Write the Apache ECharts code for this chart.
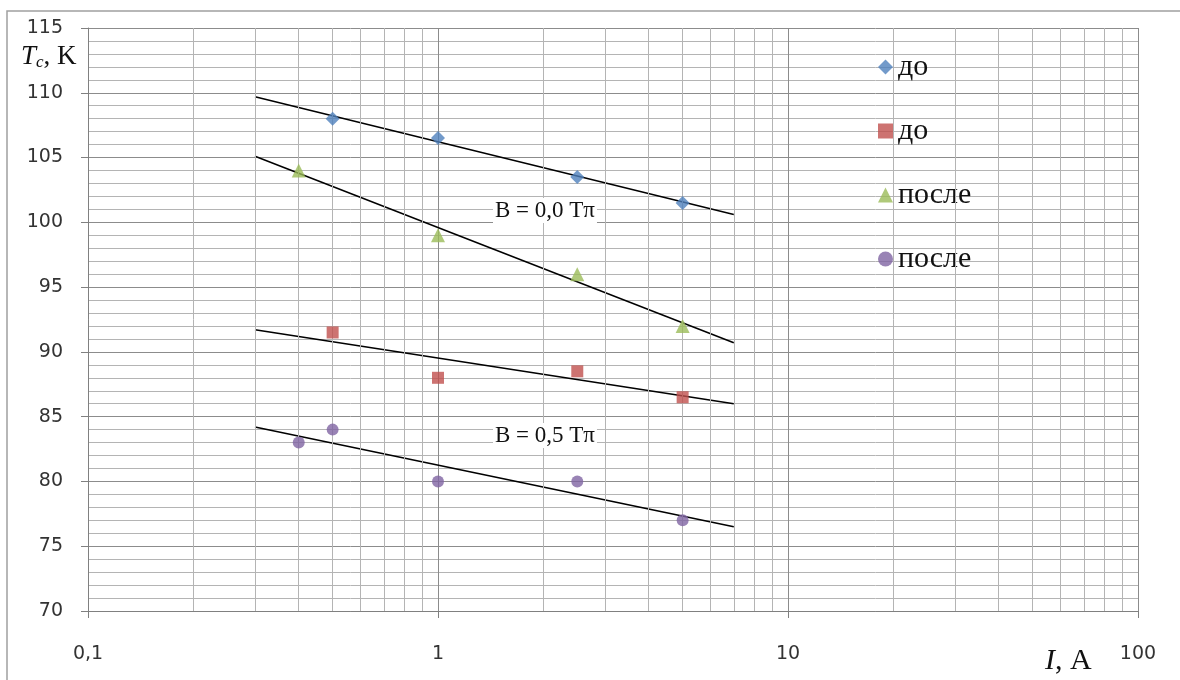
<!DOCTYPE html>
<html>
<head>
<meta charset="utf-8">
<script src="https://cdn.jsdelivr.net/npm/echarts@6/dist/echarts.min.js"></script>
<style>
  html, body { margin: 0; padding: 0; background: #fff; }
  #chart { width: 1180px; height: 680px; }
</style>
</head>
<body>
<div id="chart"></div>
<script>
// measured points, I in A, Tc in K
const doB0 = [[0.5, 108], [1, 106.5], [2.5, 103.5], [5, 101.5]];
const doB05 = [[0.5, 91.5], [1, 88], [2.5, 88.5], [5, 86.5]];
const posleB0 = [[0.4, 104], [1, 99], [2.5, 96], [5, 92]];
const posleB05 = [[0.4, 83], [0.5, 84], [1, 80], [2.5, 80], [5, 77]];

// trend lines (start / end)
const trendDoB0 = [[0.3, 109.7], [7, 100.6]];
const trendPosleB0 = [[0.3, 105.1], [7, 90.7]];
const trendDoB05 = [[0.3, 91.7], [7, 86]];
const trendPosleB05 = [[0.3, 84.2], [7, 76.5]];

// minor vertical grid lines of the log axis
const minorX = [0.2, 0.3, 0.4, 0.5, 0.6, 0.7, 0.8, 0.9,
  2, 3, 4, 5, 6, 7, 8, 9,
  20, 30, 40, 50, 60, 70, 80, 90];

const legendNames = ['до#1', 'до#2', 'после#1', 'после#2'];
const colors = ['#4F81BD', '#C0504D', '#9BBB59', '#8064A2'];

const chart = echarts.init(document.getElementById('chart'));

const serif = '"Liberation Serif", "DejaVu Serif", serif';
const sans = '"DejaVu Sans", sans-serif';

function trend(data) {
  return {
    type: 'line',
    data: data,
    symbol: 'none',
    lineStyle: { color: '#000', width: 1.5 },
    silent: true,
    z: 2
  };
}

const option = {
  animation: false,
  backgroundColor: '#fff',
  grid: { left: 88, right: 42, top: 28, bottom: 69 },
  xAxis: {
    type: 'log',
    logBase: 10,
    min: 0.1,
    max: 100,
    axisLine: { show: true, lineStyle: { color: '#808080', width: 1 } },
    axisTick: { show: true, length: 7, lineStyle: { color: '#808080' } },
    axisLabel: {
      margin: 34,
      fontFamily: sans,
      fontSize: 19,
      color: '#333',
      formatter: v => String(Number(v.toPrecision(3))).replace('.', ',')
    },
    splitLine: { show: true, lineStyle: { color: '#8c8c8c', width: 1 } },
    minorTick: { show: false },
    minorSplitLine: { show: false }
  },
  yAxis: {
    type: 'value',
    min: 70,
    max: 115,
    interval: 5,
    axisLine: { show: true, lineStyle: { color: '#808080', width: 1 } },
    axisTick: { show: true, length: 7, lineStyle: { color: '#808080' } },
    axisLabel: {
      margin: 25,
      fontFamily: sans,
      fontSize: 19,
      color: '#333'
    },
    splitLine: { show: true, lineStyle: { color: '#8c8c8c', width: 1 } },
    minorTick: { show: false, splitNumber: 5 },
    minorSplitLine: { show: true, lineStyle: { color: '#b4b4b4', width: 1 } }
  },
  legend: {
    orient: 'vertical',
    left: 873,
    top: 47,
    itemGap: 34,
    itemWidth: 15,
    itemHeight: 15,
    data: legendNames,
    formatter: name => name.split('#')[0],
    textStyle: {
      fontFamily: serif,
      fontSize: 30,
      color: '#111',
      padding: [4, 0, 0, 0]
    }
  },
  series: [
    {
      type: 'line',
      data: [],
      silent: true,
      z: 1,
      markLine: {
        silent: true,
        symbol: ['none', 'none'],
        label: { show: false },
        lineStyle: { color: '#b4b4b4', type: 'solid', width: 1 },
        data: minorX.map(v => ({ xAxis: v }))
      }
    },
    trend(trendDoB0),
    trend(trendPosleB0),
    trend(trendDoB05),
    trend(trendPosleB05),
    {
      name: legendNames[0], type: 'scatter', data: doB0,
      symbol: 'diamond', symbolSize: 14, itemStyle: { color: colors[0] }, z: 5
    },
    {
      name: legendNames[1], type: 'scatter', data: doB05,
      symbol: 'rect', symbolSize: 12, itemStyle: { color: colors[1] }, z: 5
    },
    {
      name: legendNames[2], type: 'scatter', data: posleB0,
      symbol: 'triangle', symbolSize: 14, itemStyle: { color: colors[2] }, z: 5
    },
    {
      name: legendNames[3], type: 'scatter', data: posleB05,
      symbol: 'circle', symbolSize: 12, itemStyle: { color: colors[3] }, z: 5
    }
  ],
  graphic: [
    {
      type: 'rect',
      shape: { x: 7, y: 11, width: 1200, height: 700 },
      style: { fill: 'none', stroke: '#a0a0a0', lineWidth: 1.5 },
      silent: true
    },
    {
      type: 'text',
      left: 21,
      top: 43,
      style: {
        text: '{i|T}{s|c}{n|, K}',
        rich: {
          i: { fontFamily: serif, fontStyle: 'italic', fontSize: 27, fill: '#111' },
          s: { fontFamily: serif, fontStyle: 'italic', fontSize: 17, fill: '#111', verticalAlign: 'bottom', padding: [12, 0, 0, 0] },
          n: { fontFamily: serif, fontSize: 27, fill: '#111' }
        }
      }
    },
    {
      type: 'text',
      left: 1045,
      top: 646,
      style: {
        text: '{i|I}{n|, A}',
        rich: {
          i: { fontFamily: serif, fontStyle: 'italic', fontSize: 30, fill: '#111' },
          n: { fontFamily: serif, fontSize: 30, fill: '#111' }
        }
      }
    },
    {
      type: 'text',
      left: 493,
      top: 198,
      z: 10,
      style: {
        text: 'B = 0,0 Tπ',
        fontFamily: serif,
        fontSize: 23,
        fill: '#111',
        backgroundColor: '#fff',
        padding: [1, 2, 1, 2]
      }
    },
    {
      type: 'text',
      left: 493,
      top: 423,
      z: 10,
      style: {
        text: 'B = 0,5 Tπ',
        fontFamily: serif,
        fontSize: 23,
        fill: '#111',
        backgroundColor: '#fff',
        padding: [1, 2, 1, 2]
      }
    }
  ]
};

chart.setOption(option);
</script>
</body>
</html>
